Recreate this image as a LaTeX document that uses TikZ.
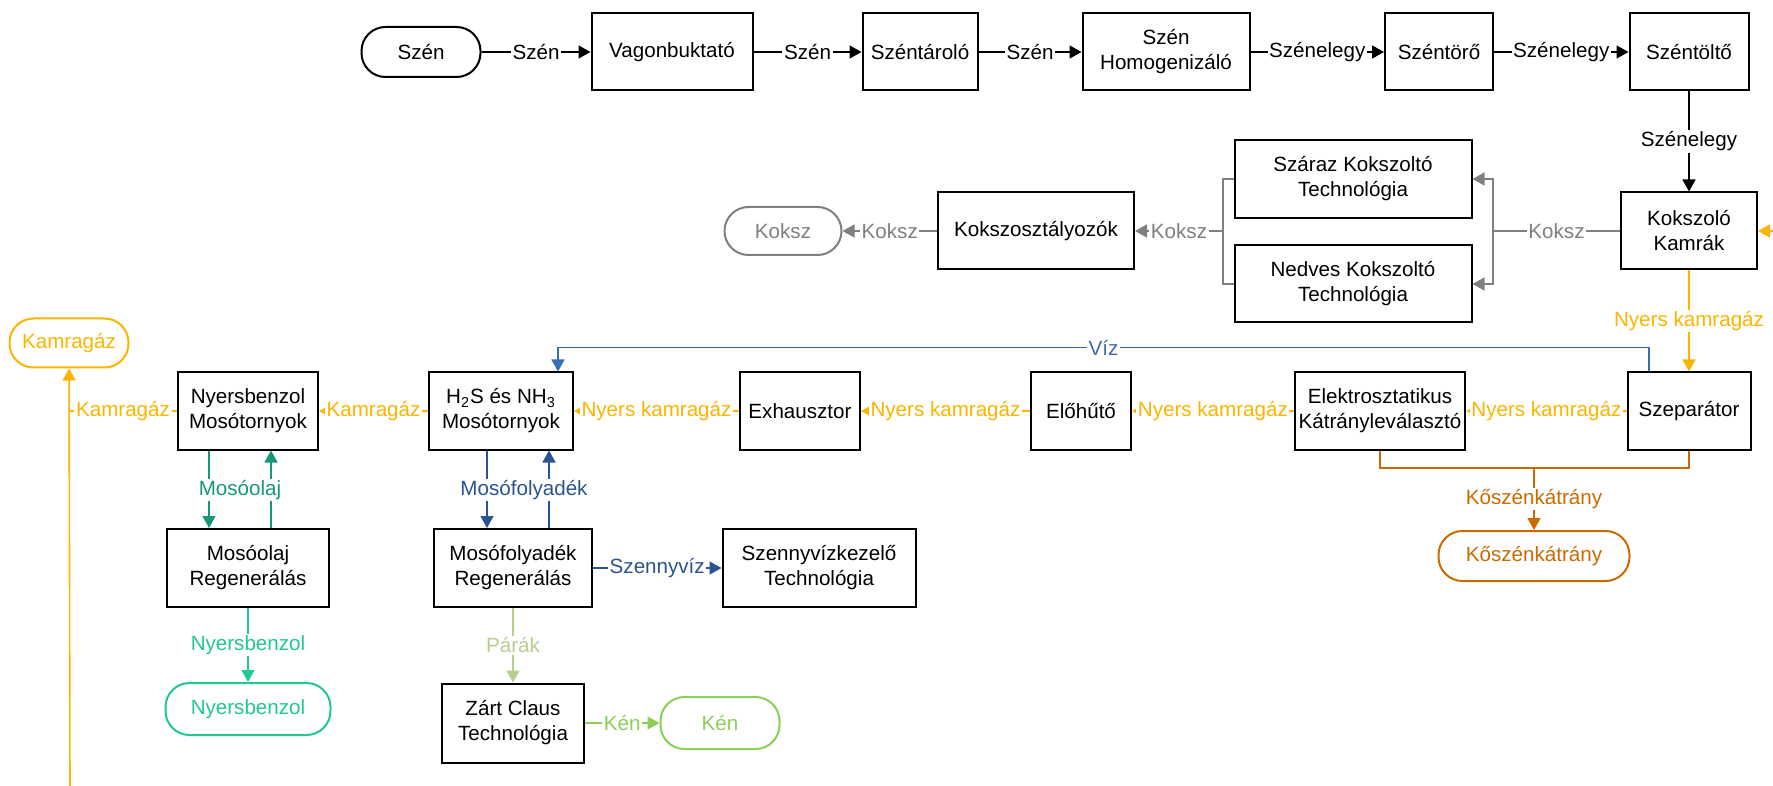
\documentclass[tikz,border=0pt]{standalone}
\usepackage{fontspec}
\setmainfont{Liberation Sans}
\usetikzlibrary{arrows.meta}
\definecolor{gas}{HTML}{FBB500}
\definecolor{koksgray}{HTML}{7F7F7F}
\definecolor{vizblue}{HTML}{3B6DB5}
\definecolor{mosblue}{HTML}{2A5392}
\definecolor{olaj}{HTML}{16967A}
\definecolor{benzol}{HTML}{21C794}
\definecolor{parak}{HTML}{B7CF8E}
\definecolor{ken}{HTML}{8CCF55}
\definecolor{tar}{HTML}{CC6A00}

\begin{document}
\begin{tikzpicture}[x=0.5pt,y=-0.5pt,line width=0.8pt,
    flow/.style={-{Triangle[length=6pt,width=6.5pt]}},
    every node/.style={font=\fontsize{10.3}{12.5}\selectfont},
    box/.style={draw=black,text=black,line width=1pt,minimum height=38.5pt,align=center,inner sep=2pt},
    term/.style={draw,line width=1pt,rounded corners=12pt,minimum height=25pt,align=center},
    lbl/.style={fill=white,inner sep=0.8pt}]
                \useasboundingbox (0,0) rectangle (1773,786);
                \node[term,minimum width=59.5pt] (szen) at (421,52) {Szén};
                \node[box,minimum width=80.5pt] (vagon) at (672,52) {Vagonbuktató};
                \node[box,minimum width=57.5pt] (sztarolo) at (920,52) {Széntároló};
                \node[box,minimum width=83.5pt] (homog) at (1166,52) {Szén\\Homogenizáló};
                \node[box,minimum width=54pt] (sztoro) at (1439,52) {Széntörő};
                \node[box,minimum width=59.5pt] (sztolto) at (1689,52) {Széntöltő};
                \node[box,minimum width=68pt] (kamrak) at (1689,231) {Kokszoló\\Kamrák};
                \node[box,minimum width=118.5pt,minimum height=39pt] (szaraz) at (1353,179) {Száraz Kokszoltó\\Technológia};
                \node[box,minimum width=118.5pt] (nedves) at (1353,284) {Nedves Kokszoltó\\Technológia};
                \node[box,minimum width=98pt] (osztaly) at (1036,231) {Kokszosztályozók};
                \node[term,koksgray,minimum width=58.5pt,minimum height=24pt] (koksz) at (783,231) {Koksz};
                \node[box,minimum width=61.5pt] (szep) at (1689,411) {Szeparátor};
                \node[box,minimum width=84pt] (elek) at (1380,411) {Elektrosztatikus\\Kátrányleválasztó};
                \node[box,minimum width=50pt] (eloh) at (1081,411) {Előhűtő};
                \node[box,minimum width=60pt] (exh) at (800,411) {Exhausztor};
                \node[box,minimum width=72pt] (h2s) at (501,411) {H\textsubscript{2}S és NH\textsubscript{3}\\Mosótornyok};
                \node[box,minimum width=70pt] (nybm) at (248,411) {Nyersbenzol\\Mosótornyok};
                \node[term,gas,minimum width=59.5pt,minimum height=24.5pt] (kamragaz) at (69,343) {Kamragáz};
                \node[box,minimum width=81pt,minimum height=39pt] (mor) at (248,568) {Mosóolaj\\Regenerálás};
                \node[box,minimum width=79pt,minimum height=39pt] (mfr) at (513,568) {Mosófolyadék\\Regenerálás};
                \node[box,minimum width=96.5pt,minimum height=39pt] (szv) at (819,568) {Szennyvízkezelő\\Technológia};
                \node[term,tar,minimum width=95.5pt] (tarterm) at (1534,556) {Kőszénkátrány};
                \node[term,benzol,minimum width=82.5pt,minimum height=26pt] (nyb) at (248,709) {Nyersbenzol};
                \node[box,minimum width=71pt,minimum height=39.5pt] (claus) at (513,723) {Zárt Claus\\Technológia};
                \node[term,ken,minimum width=59.5pt,minimum height=26pt] (kenterm) at (720,723) {Kén};
                \coordinate (kj1) at (1493,231);
                \coordinate (kj2) at (1223,231);
                \coordinate (tarj) at (1534,468);
                \coordinate (kgbot) at (70,786);
                \coordinate (kgin) at (1773,231);
                \draw[flow] (szen) -- (vagon) node[lbl,midway] {Szén};
                \draw[flow] (vagon) -- (sztarolo) node[lbl,midway] {Szén};
                \draw[flow] (sztarolo) -- (homog) node[lbl,midway] {Szén};
                \draw[flow] (homog) -- (sztoro) node[lbl,midway] {Szénelegy};
                \draw[flow] (sztoro) -- (sztolto) node[lbl,midway] {Szénelegy};
                \draw[flow] (sztolto) -- (kamrak) node[lbl,midway] {Szénelegy};
                \draw[koksgray] (kamrak) -- (kj1) node[lbl,midway] {Koksz};
                \draw[flow,koksgray] (kj1) |- (szaraz);
                \draw[flow,koksgray] (kj1) |- (nedves);
                \draw[koksgray] (szaraz) -| (kj2);
                \draw[koksgray] (nedves) -| (kj2);
                \draw[flow,koksgray] (kj2) -- (osztaly) node[lbl,midway] {Koksz};
                \draw[flow,koksgray] (osztaly) -- (koksz) node[lbl,midway] {Koksz};
                \draw[flow,gas] (kgin) -- (kamrak);
                \draw[flow,gas] (kamrak) -- (szep) node[lbl,midway] {Nyers kamragáz};
                \draw[flow,gas] (szep) -- (elek) node[lbl,midway] {Nyers kamragáz};
                \draw[flow,gas] (elek) -- (eloh) node[lbl,midway] {Nyers kamragáz};
                \draw[flow,gas] (eloh) -- (exh) node[lbl,midway] {Nyers kamragáz};
                \draw[flow,gas] (exh) -- (h2s) node[lbl,midway] {Nyers kamragáz};
                \draw[flow,gas] (h2s) -- (nybm) node[lbl,midway] {Kamragáz};
                \draw[gas] (nybm) -- (kamragaz.south |- nybm.west) node[lbl,midway] {Kamragáz};
                \draw[flow,gas] (kgbot) -- (kamragaz);
                \draw[flow,vizblue] ([xshift=-20pt]szep.north) -- ++(0,-24) -| node[lbl,pos=0.25] {Víz} ([xshift=28.5pt]h2s.north);
                \draw[tar] (elek.south) |- (tarj) -| (szep.south);
                \draw[flow,tar] (tarj) -- (tarterm) node[lbl,midway] {Kőszénkátrány};
                \draw[flow,olaj] ([xshift=-19.5pt]nybm.south) -- ([xshift=-19.5pt]mor.north);
                \draw[flow,olaj] ([xshift=11.5pt]mor.north) -- ([xshift=11.5pt]nybm.south);
                \node[lbl,text=olaj] (olajlbl) at (240,490) {Mosóolaj};
                \draw[flow,mosblue] ([xshift=-7pt]h2s.south) -- ([xshift=-7pt]h2s.south |- mfr.north);
                \draw[flow,mosblue] ([xshift=24pt]h2s.south |- mfr.north) -- ([xshift=24pt]h2s.south);
                \node[lbl,text=mosblue] (moslbl) at (524,490) {Mosófolyadék};
                \draw[flow,benzol] (mor) -- (nyb) node[lbl,midway] {Nyersbenzol};
                \draw[flow,parak] (mfr) -- (claus) node[lbl,midway] {Párák};
                \draw[flow,mosblue] (mfr) -- (szv) node[lbl,midway] {Szennyvíz};
                \draw[flow,ken] (claus) -- (kenterm) node[lbl,midway] {Kén};
            \end{tikzpicture}
\end{document}
